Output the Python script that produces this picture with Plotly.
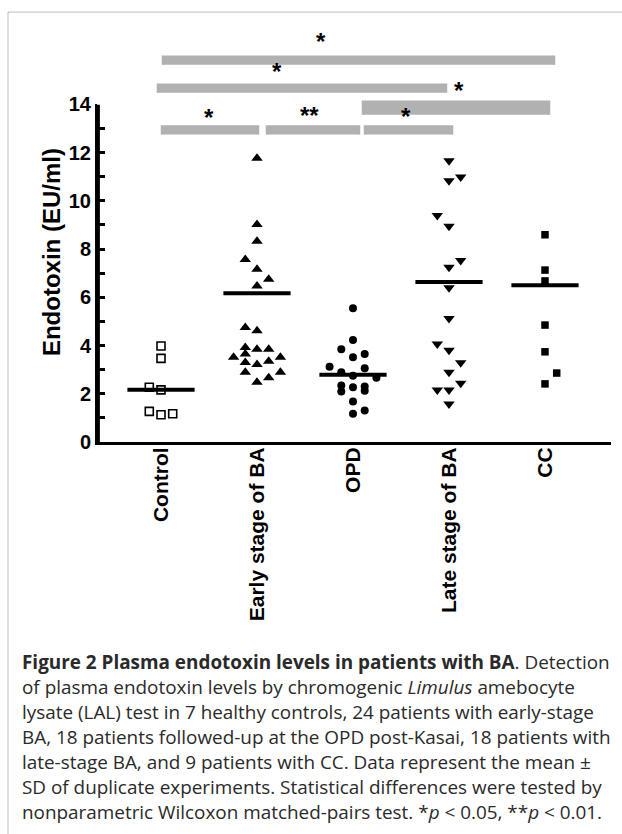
import plotly.graph_objects as go

# ---------------- data ----------------
categories = ["Control", "Early stage of BA", "OPD", "Late stage of BA", "CC"]

control_vals = [3.98, 3.47, 2.27, 2.16, 1.27, 1.13, 1.17]
control_cols = [0, 0, -1, 0, -1, 0, 1]

early_vals = [11.77, 9.02, 8.33, 7.57, 7.16, 6.75, 6.47, 4.75, 4.61, 3.92, 3.85,
              3.85, 3.65, 3.51, 3.51, 3.30, 3.21, 3.35, 2.89, 2.89, 2.66, 2.48]
early_cols = [0, 0, 0, -1, 0, 1, 0, -1, 0, -1, 0,
              1, -1, -2, 2, -1, 0, 1, -1, 2, 1, 0]

opd_vals = [5.55, 4.23, 3.85, 3.65, 3.51, 3.12, 3.06, 2.89, 2.75, 2.66, 2.34,
            2.27, 2.30, 2.09, 2.13, 1.68, 1.17, 1.31]
opd_cols = [0, 0, -1, 1, 0, -2, 1, -1, 0, 2, -1,
            0, 1, -1, 1, 0, 0, 1]

late_vals = [11.66, 10.83, 10.99, 9.39, 8.95, 7.25, 7.53, 6.40, 5.12, 4.06, 3.81,
             3.29, 2.89, 2.44, 2.16, 2.16, 1.58]
late_cols = [0, 0, 1, -1, 0, 0, 1, 0, 0, -1, 0,
             1, 0, 1, -1, 0, 0]

cc_vals = [8.60, 7.13, 6.68, 4.85, 3.74, 2.86, 2.41]
cc_cols = [0, 0, 0, 0, 0, 1, 0]

means = [2.17, 6.17, 2.79, 6.64, 6.50]

y_tick_vals = list(range(0, 15))
y_tick_text = ["<b>%d</b>" % v if v % 2 == 0 else "" for v in y_tick_vals]

# comparisons: (left group, right group, label)
comparisons = [(0, 1, "*"), (1, 2, "**"), (2, 3, "*"), (2, 4, "*"), (0, 3, "*"), (0, 4, "*")]

caption_lines = [
    "<b>Figure 2 Plasma endotoxin levels in patients with BA</b>. Detection",
    "of plasma endotoxin levels by chromogenic <i>Limulus</i> amebocyte",
    "lysate (LAL) test in 7 healthy controls, 24 patients with early-stage",
    "BA, 18 patients followed-up at the OPD post-Kasai, 18 patients with",
    "late-stage BA, and 9 patients with CC. Data represent the mean ±",
    "SD of duplicate experiments. Statistical differences were tested by",
    "nonparametric Wilcoxon matched-pairs test. *<i>p</i> &lt; 0.05, **<i>p</i> &lt; 0.01.",
]

# ---------------- layout geometry ----------------
W, H = 622, 834
ML, MR, MT = 97, 11, 20
Y0_PX = 441.7               # pixel row of y = 0
PX_PER_UNIT_Y = 24.21
PX_PER_UNIT_X = 96.0
X0_PX = 161.0               # pixel column of first category
Y_MAX = 14
MB = H - Y0_PX
plot_w = W - ML - MR
plot_h = Y0_PX - MT

x_range = [(ML - X0_PX) / PX_PER_UNIT_X, (W - MR - X0_PX) / PX_PER_UNIT_X]
y_domain_top = Y_MAX * PX_PER_UNIT_Y / plot_h


def paper_x(px):
    return (px - ML) / plot_w


def paper_y(py):
    return (Y0_PX - py) / plot_h


SLOT = 0.122
FONT = "Liberation Sans, Arial, sans-serif"

fig = go.Figure()

groups = [
    (control_vals, control_cols, dict(symbol="square-open", size=8, color="black", line=dict(width=1.6, color="black"))),
    (early_vals, early_cols, dict(symbol="triangle-up", size=10, color="black", line=dict(width=0))),
    (opd_vals, opd_cols, dict(symbol="circle", size=8, color="black", line=dict(width=0))),
    (late_vals, late_cols, dict(symbol="triangle-down", size=10, color="black", line=dict(width=0))),
    (cc_vals, cc_cols, dict(symbol="square", size=7.5, color="black", line=dict(width=0))),
]

for gi, (vals, cols, mk) in enumerate(groups):
    fig.add_trace(go.Scatter(
        x=[gi + c * SLOT for c in cols], y=vals, mode="markers",
        marker=mk, showlegend=False, hoverinfo="y"))

for gi, m in enumerate(means):
    fig.add_trace(go.Scatter(
        x=[gi - 0.35, gi + 0.35], y=[m, m], mode="lines",
        line=dict(color="black", width=4), showlegend=False, hoverinfo="skip"))

# y axis spine drawn just inside the plot edge, spanning the axis range
spine_x = x_range[0] + 1.4 / PX_PER_UNIT_X
fig.add_trace(go.Scatter(
    x=[spine_x, spine_x], y=[0, Y_MAX], mode="lines",
    line=dict(color="black", width=3), showlegend=False, hoverinfo="skip",
    cliponaxis=False))

shapes = []
annotations = []

# comparison brackets: (bar_py, leg_py, left_px, right_px, star_px, star_py)
bracket_geom = [
    (125, 133, 162, 258, 209, 113),
    (125, 133, 267, 359, 309, 111),
    (125, 133, 365, 452, 406, 112),
    (100, 113, 363, 549, 459, 86),
    (83, 91, 158, 446, 277, 67),
    (55, 63, 163, 554, 321, 37),
]
for (a, b, lab), (bar, leg, lx, rx, sx, sy) in zip(comparisons, bracket_geom):
    shapes.append(dict(type="path",
                       path="M {},{} L {},{} L {},{} L {},{}".format(
                           paper_x(lx), paper_y(leg), paper_x(lx), paper_y(bar),
                           paper_x(rx), paper_y(bar), paper_x(rx), paper_y(leg)),
                       xref="paper", yref="paper", line=dict(color="black", width=2.5)))
    annotations.append(dict(x=paper_x(sx), y=paper_y(sy + 3), xref="paper", yref="paper",
                            text="<b>" + lab + "</b>", showarrow=False,
                            font=dict(family=FONT, size=24, color="black"),
                            xanchor="center", yanchor="middle"))

# figure frame (top and left edges)
shapes.append(dict(type="line", xref="paper", yref="paper",
                   x0=paper_x(8), x1=paper_x(W + 5), y0=paper_y(10), y1=paper_y(10),
                   line=dict(color="#555555", width=1.2)))
shapes.append(dict(type="line", xref="paper", yref="paper",
                   x0=paper_x(8), x1=paper_x(8), y0=paper_y(10), y1=paper_y(H + 5),
                   line=dict(color="#555555", width=1.2)))

# y axis title
annotations.append(dict(x=paper_x(51), y=paper_y(251), xref="paper", yref="paper",
                        text="<b>Endotoxin (EU/ml)</b>", textangle=-90, showarrow=False,
                        font=dict(family=FONT, size=24, color="black"),
                        xanchor="center", yanchor="middle"))

# caption
for i, line in enumerate(caption_lines):
    annotations.append(dict(x=paper_x(20), y=paper_y(663 + 25 * i), xref="paper", yref="paper",
                            text=line, showarrow=False, align="left",
                            font=dict(family="Open Sans, sans-serif", size=18.9, color="#2a2a2a"),
                            xanchor="left", yanchor="middle"))

fig.update_layout(
    template="simple_white",
    width=W, height=H,
    margin=dict(l=ML, r=MR, t=MT, b=MB, pad=0),
    paper_bgcolor="white", plot_bgcolor="white",
    shapes=shapes, annotations=annotations,
    xaxis=dict(range=x_range, tickmode="array", tickvals=list(range(len(categories))),
               ticktext=["<b>" + c + "</b>" for c in categories], tickangle=-90,
               showline=True, linecolor="black", linewidth=3, ticks="",
               showgrid=False, zeroline=False, ticklabelstandoff=-6,
               tickfont=dict(family=FONT, size=21, color="black")),
    yaxis=dict(range=[0, Y_MAX], domain=[0, y_domain_top], tickmode="array",
               tickvals=y_tick_vals, ticktext=y_tick_text,
               ticks="inside", ticklen=8, tickwidth=2.5, tickcolor="black",
               showline=True, linecolor="black", linewidth=2,
               showgrid=False, zeroline=False,
               tickfont=dict(family=FONT, size=20, color="black")),
)

fig.write_html("out.html", config={"displayModeBar": False},
               post_script="document.body.style.margin='0';document.body.style.overflow='hidden';")
